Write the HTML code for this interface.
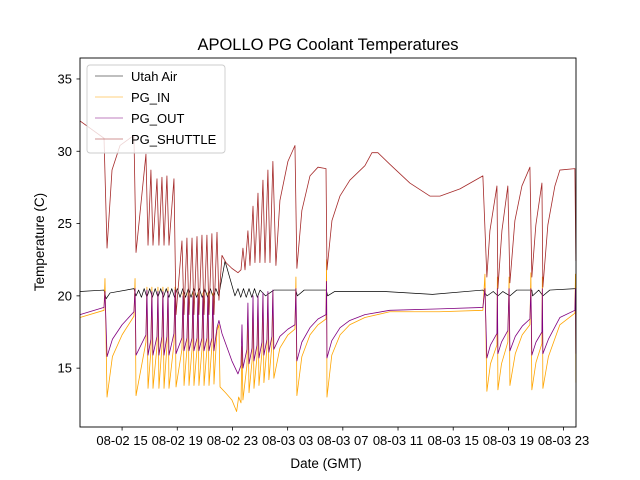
<!DOCTYPE html>
<html><head><meta charset="utf-8"><style>
body{margin:0;background:#fff}
svg{display:block;font-family:"Liberation Sans","DejaVu Sans",sans-serif}
</style></head><body>
<svg id="chart" width="640" height="480" viewBox="0 0 640 480">
<rect x="0" y="0" width="640" height="480" fill="#fff"/>
<text x="328" y="50" font-size="16.5" text-anchor="middle">APOLLO PG Coolant Temperatures</text>
<g id="series"></g>
<rect x="80" y="58" width="496" height="369" fill="none" stroke="#000" stroke-width="0.9"/>
<g id="xticks"></g>
<g id="yticks"></g>
<text x="326" y="468" font-size="13.5" text-anchor="middle">Date (GMT)</text>
<text x="44" y="242" font-size="13.5" text-anchor="middle" transform="rotate(-90 44 242)">Temperature (C)</text>
<g>
<rect x="87" y="65" width="138" height="88" rx="3" fill="#fff" fill-opacity="0.8" stroke="#ccc" stroke-width="0.9"/>
<line x1="95" y1="76" x2="123" y2="76" stroke="#000" stroke-width="0.6"/>
<text x="131" y="81" font-size="13">Utah Air</text>
<line x1="95" y1="97" x2="123" y2="97" stroke="#ffa500" stroke-width="0.6"/>
<text x="131" y="102" font-size="13">PG_IN</text>
<line x1="95" y1="118" x2="123" y2="118" stroke="#800080" stroke-width="0.6"/>
<text x="131" y="123" font-size="13">PG_OUT</text>
<line x1="95" y1="139" x2="123" y2="139" stroke="#a52a2a" stroke-width="0.6"/>
<text x="131" y="144" font-size="13">PG_SHUTTLE</text>
</g>
</svg>
<script>
// hours since 08-02 00:00 GMT, temperature in C
const xTickHours = [15,19,23,27,31,35,39,43,47];
const xTickLabels = ["08-02 15","08-02 19","08-02 23","08-03 03","08-03 07","08-03 11","08-03 15","08-03 19","08-03 23"];
const yTickValues = [15,20,25,30,35];
const shuttleData = [[11.95,32.1],[13.69,30.9],[13.91,23.3],[14.27,28.7],[14.85,30.4],[15.86,31.1],[16.01,23.0],[16.73,29.8],[16.88,23.5],[17.09,28.7],[17.24,23.5],[17.53,28.1],[17.67,23.5],[17.89,28.2],[18.04,23.5],[18.25,28.3],[18.4,23.5],[18.76,28.1],[18.91,18.7],[19.34,23.8],[19.49,18.7],[19.7,24.0],[19.85,18.7],[20.07,24.0],[20.21,18.7],[20.43,24.1],[20.57,18.7],[20.79,24.2],[20.94,18.7],[21.15,24.2],[21.3,18.7],[21.51,24.3],[21.66,18.7],[21.88,24.4],[22.02,19.7],[22.24,22.8],[22.53,22.3],[22.96,21.9],[23.4,21.6],[23.62,21.8],[23.76,23.3],[23.91,21.8],[24.12,24.5],[24.27,22.1],[24.49,26.2],[24.63,22.3],[24.85,27.1],[24.99,22.3],[25.21,28.0],[25.36,22.3],[25.57,28.7],[25.72,22.3],[25.93,29.3],[26.15,22.1],[26.44,26.6],[27.02,29.3],[27.53,30.4],[27.67,21.9],[28.03,25.9],[28.62,28.3],[29.2,28.9],[29.78,28.8],[29.85,21.8],[30.21,25.2],[30.79,26.9],[31.51,28.0],[32.6,29.0],[33.11,29.9],[33.54,29.9],[34.41,29.1],[35.86,27.8],[37.31,26.9],[38.04,26.9],[39.49,27.4],[41.15,28.3],[41.44,21.3],[41.66,24.5],[42.17,27.6],[42.24,20.5],[42.53,24.5],[42.96,27.6],[43.11,20.9],[43.47,25.2],[43.98,27.6],[44.56,28.9],[44.7,21.3],[44.99,24.9],[45.43,27.8],[45.5,20.6],[45.86,24.9],[46.37,27.6],[46.73,28.7],[47.82,28.8],[47.89,22.4]];
const airData = [[11.95,20.3],[13.69,20.4],[13.84,19.8],[14.13,20.2],[15.86,20.5],[16.01,20.0],[16.2,20.4],[16.4,19.9],[16.6,20.5],[16.8,19.9],[17.0,20.5],[17.2,19.9],[17.4,20.5],[17.6,19.9],[17.8,20.5],[18.0,19.9],[18.2,20.5],[18.4,19.9],[18.6,20.5],[18.8,19.9],[19.0,20.5],[19.2,19.9],[19.4,20.5],[19.6,19.9],[19.8,20.5],[20.0,19.9],[20.2,20.5],[20.4,19.9],[20.6,20.5],[20.8,19.9],[21.0,20.5],[21.2,19.9],[21.4,20.5],[21.6,19.9],[21.8,20.5],[22.0,20.0],[22.46,22.4],[23.18,20.0],[23.4,20.5],[23.6,19.9],[23.8,20.5],[24.0,19.9],[24.2,20.5],[24.4,19.9],[24.6,20.5],[24.8,19.9],[25.0,20.4],[25.4,20.0],[26.0,20.4],[27.6,20.4],[27.7,20.0],[28.2,20.4],[29.8,20.4],[29.9,20.0],[30.4,20.3],[34.0,20.3],[37.5,20.1],[41.15,20.4],[41.45,20.0],[41.9,20.3],[42.24,20.0],[42.6,20.3],[43.11,20.0],[43.6,20.4],[44.7,20.4],[44.75,20.0],[45.2,20.4],[45.5,20.0],[46.0,20.4],[47.89,20.5]];
const outData = [[11.95,18.7],[13.69,19.2],[13.76,20.3],[13.91,15.8],[14.3,17.0],[15.0,18.0],[15.86,18.9],[15.94,20.5],[16.01,15.9],[16.73,17.3],[16.8,20.4],[16.88,15.9],[17.09,17.0],[17.16,20.3],[17.24,15.9],[17.53,17.2],[17.6,20.3],[17.67,15.9],[17.89,17.2],[17.96,20.3],[18.04,15.9],[18.25,17.2],[18.33,20.3],[18.4,15.9],[18.76,17.4],[18.84,20.4],[18.91,16.0],[19.34,17.1],[19.42,20.0],[19.49,16.2],[19.7,17.1],[19.78,20.0],[19.85,16.2],[20.07,17.1],[20.14,20.0],[20.21,16.2],[20.43,17.1],[20.5,20.0],[20.57,16.2],[20.79,17.1],[20.86,20.0],[20.94,16.2],[21.15,17.1],[21.22,20.0],[21.3,16.2],[21.51,17.1],[21.58,20.0],[21.66,16.2],[21.88,17.8],[22.02,18.3],[22.24,17.4],[22.96,15.5],[23.4,14.6],[23.62,15.2],[23.69,18.0],[23.76,15.0],[24.05,16.3],[24.12,19.5],[24.2,15.3],[24.42,16.4],[24.49,20.0],[24.56,15.5],[24.78,16.6],[24.85,20.0],[24.92,15.7],[25.14,16.8],[25.21,20.2],[25.28,15.9],[25.5,17.0],[25.57,20.3],[25.64,16.1],[25.86,17.2],[25.93,20.4],[26.0,16.3],[26.44,17.2],[27.02,17.7],[27.53,18.0],[27.6,20.5],[27.67,15.5],[28.03,16.8],[28.62,17.8],[29.2,18.4],[29.78,18.7],[29.82,21.0],[29.85,15.7],[30.2,16.9],[30.8,17.8],[31.5,18.3],[32.6,18.7],[34.4,19.0],[38.0,19.1],[41.15,19.2],[41.3,20.5],[41.44,15.7],[41.7,16.6],[42.17,17.4],[42.2,20.5],[42.24,16.0],[42.5,16.8],[42.96,17.6],[43.05,20.5],[43.11,16.2],[43.5,17.2],[44.0,17.9],[44.56,18.4],[44.63,20.5],[44.7,15.9],[45.0,16.8],[45.43,17.5],[45.46,20.5],[45.5,16.0],[45.9,17.0],[46.73,18.5],[47.82,19.0],[47.86,20.5],[47.89,16.0]];
const inData = [[11.95,18.5],[13.69,19.0],[13.76,21.2],[13.91,13.0],[14.3,15.8],[15.0,17.3],[15.86,18.6],[15.94,21.2],[16.01,13.1],[16.73,16.8],[16.8,20.6],[16.88,13.6],[17.09,16.2],[17.16,20.6],[17.24,13.6],[17.53,16.5],[17.6,20.6],[17.67,13.6],[17.89,16.5],[17.96,20.6],[18.04,13.6],[18.25,16.5],[18.33,20.6],[18.4,13.6],[18.76,16.7],[18.84,20.6],[18.91,13.7],[19.34,16.3],[19.42,20.2],[19.49,13.8],[19.7,16.3],[19.78,20.2],[19.85,13.8],[20.07,16.3],[20.14,20.2],[20.21,13.8],[20.43,16.3],[20.5,20.2],[20.57,13.8],[20.79,16.3],[20.86,20.2],[20.94,13.8],[21.15,16.3],[21.22,20.2],[21.3,13.8],[21.51,16.5],[21.58,20.2],[21.66,13.9],[21.88,17.6],[22.02,18.0],[22.1,13.7],[22.5,13.3],[22.96,12.8],[23.3,12.0],[23.45,13.0],[23.62,12.6],[23.69,16.5],[23.76,12.8],[24.05,15.2],[24.12,19.0],[24.2,13.3],[24.42,15.5],[24.49,19.5],[24.56,13.6],[24.78,15.8],[24.85,19.8],[24.92,13.8],[25.14,16.1],[25.21,20.0],[25.28,14.0],[25.5,16.4],[25.57,20.2],[25.64,14.2],[25.86,16.6],[25.93,20.3],[26.0,14.3],[26.44,16.4],[27.02,17.3],[27.53,17.7],[27.6,21.3],[27.67,13.1],[28.03,15.8],[28.62,17.3],[29.2,18.0],[29.78,18.4],[29.82,22.5],[29.85,13.0],[30.2,15.9],[30.8,17.3],[31.5,18.0],[32.6,18.5],[34.4,18.9],[38.0,18.9],[41.15,19.0],[41.3,21.5],[41.44,13.4],[41.7,15.3],[42.17,16.6],[42.2,21.3],[42.24,13.5],[42.5,15.3],[42.96,16.8],[43.05,21.3],[43.11,13.8],[43.5,16.0],[44.0,17.3],[44.56,18.0],[44.63,21.6],[44.7,13.5],[45.0,15.4],[45.43,16.7],[45.46,21.3],[45.5,13.6],[45.9,15.8],[46.73,18.0],[47.82,18.8],[47.86,21.5],[47.89,14.0]];

const X0=80,X1=576,Y0=427,Y1=58;
const hMin=11.95,hMax=47.9,tMin=10.93,tMax=36.45;
function sx(h){return X0+(h-hMin)/(hMax-hMin)*(X1-X0);}
function sy(t){return Y0-(t-tMin)/(tMax-tMin)*(Y0-Y1);}
const NS="http://www.w3.org/2000/svg";
const g=document.getElementById('series');
function drawLine(data,color,w,name){
  const p=document.createElementNS(NS,'path');
  p.setAttribute('d',data.map((d,i)=>(i?'L':'M')+sx(d[0]).toFixed(2)+','+sy(d[1]).toFixed(2)).join(''));
  p.setAttribute('fill','none');p.setAttribute('stroke',color);p.setAttribute('stroke-width',w);
  p.setAttribute('stroke-linejoin','round');
  
  
  g.appendChild(p);
}
drawLine(airData,'#000',0.7,'utah-air-line');
drawLine(inData,'#ffa500',0.8,'pg-in-line');
drawLine(outData,'#800080',0.8,'pg-out-line');
drawLine(shuttleData,'#a52a2a',0.8,'pg-shuttle-line');

const xg=document.getElementById('xticks');
xTickHours.forEach((h,i)=>{
  const x=sx(h);
  const l=document.createElementNS(NS,'line');
  l.setAttribute('x1',x);l.setAttribute('x2',x);l.setAttribute('y1',427);l.setAttribute('y2',430.5);
  l.setAttribute('stroke','#000');l.setAttribute('stroke-width','0.8');
  
  
  xg.appendChild(l);
  const t=document.createElementNS(NS,'text');
  t.setAttribute('x',x);t.setAttribute('y',445);t.setAttribute('font-size','13');t.setAttribute('text-anchor','middle');
  t.textContent=xTickLabels[i];
  
  
  xg.appendChild(t);
});
const yg=document.getElementById('yticks');
yTickValues.forEach(v=>{
  const y=sy(v);
  const l=document.createElementNS(NS,'line');
  l.setAttribute('x1',76.5);l.setAttribute('x2',80);l.setAttribute('y1',y);l.setAttribute('y2',y);
  l.setAttribute('stroke','#000');l.setAttribute('stroke-width','0.8');
  
  
  yg.appendChild(l);
  const t=document.createElementNS(NS,'text');
  t.setAttribute('x',72);t.setAttribute('y',y+4.5);t.setAttribute('font-size','13');t.setAttribute('text-anchor','end');
  t.textContent=String(v);
  
  
  yg.appendChild(t);
});
</script>
</body></html>
